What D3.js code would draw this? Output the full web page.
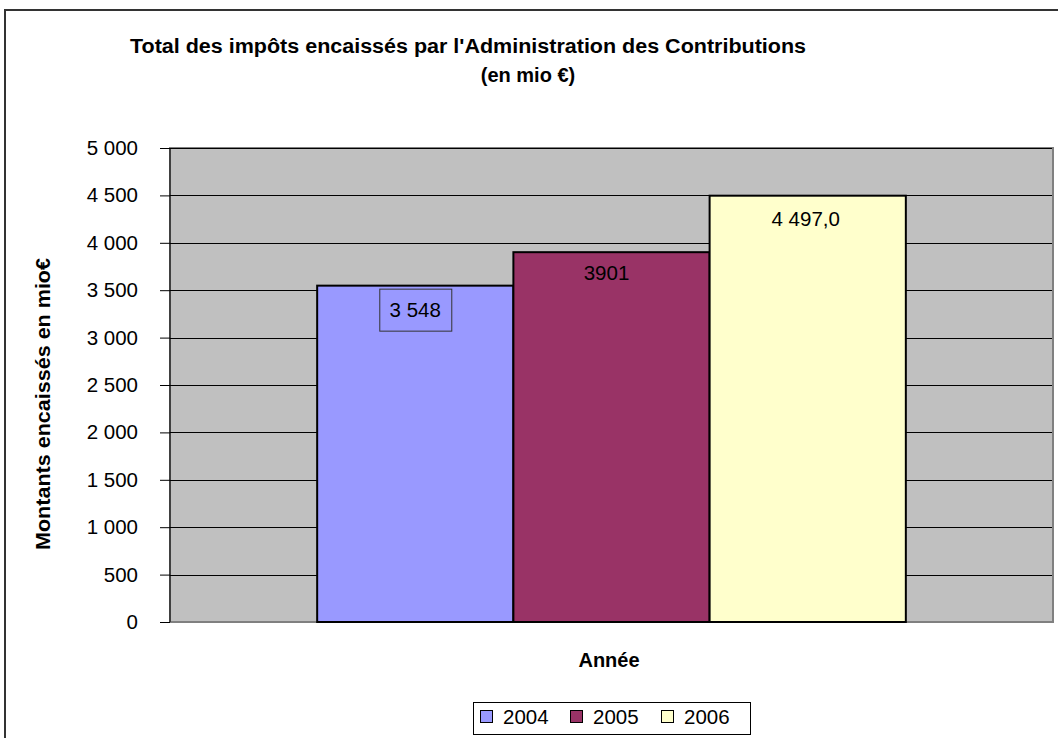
<!DOCTYPE html>
<html>
<head>
<meta charset="utf-8">
<script src="https://cdn.jsdelivr.net/npm/d3@7"></script>
<style>
  body { margin: 0; background: #fff; }
  svg text { font-family: Arial, "Liberation Sans", sans-serif; fill: #000; }
</style>
</head>
<body>
<div id="chart"></div>
<script>
// data
var years = ["2004", "2005", "2006"];
var values = [3548, 3901, 4497];
var valueLabels = ["3 548", "3901", "4 497,0"];
var colors = ["#9999ff", "#993366", "#ffffcc"];
var yTicks = [0, 500, 1000, 1500, 2000, 2500, 3000, 3500, 4000, 4500, 5000];

var width = 1058, height = 738;
var svg = d3.select("#chart").append("svg")
    .attr("width", width)
    .attr("height", height);

// outer chart border (cut off at right and bottom)
svg.append("path")
    .attr("d", "M5,740 L5,10 L1060,10")
    .attr("fill", "none")
    .attr("stroke", "#333")
    .attr("stroke-width", 2);

var plot = {left: 170, right: 1053, top: 148, bottom: 622};

var yScale = d3.scaleLinear().domain([0, 5000]).range([plot.bottom, plot.top]);

// gap width 150% : half a bar width of gap on each side of the group
var barW = (plot.right - plot.left) / (years.length + 1.5);
var xScale = d3.scaleBand().domain(years)
    .range([plot.left + barW * 0.75, plot.right - barW * 0.75])
    .padding(0);

// plot background
svg.append("rect")
    .attr("x", plot.left)
    .attr("y", plot.top)
    .attr("width", plot.right - plot.left)
    .attr("height", plot.bottom - plot.top)
    .attr("fill", "#c0c0c0")
    .attr("stroke", "#808080")
    .attr("stroke-width", 2);

// gridlines
svg.append("g").selectAll("line")
    .data(yTicks.filter(function(d) { return d > 0; }))
    .enter().append("line")
    .attr("x1", plot.left)
    .attr("x2", plot.right - 1)
    .attr("y1", function(d) { return Math.round(yScale(d)) + 0.5; })
    .attr("y2", function(d) { return Math.round(yScale(d)) + 0.5; })
    .attr("stroke", "#000")
    .attr("stroke-width", 1);

// y axis
var fmt = d3.formatLocale({decimal: ",", thousands: " ", grouping: [3], currency: ["", " €"]}).format(",d");
var yAxis = d3.axisLeft(yScale)
    .tickValues(yTicks)
    .tickFormat(fmt)
    .tickSize(10)
    .tickPadding(22);

var gy = svg.append("g")
    .attr("transform", "translate(" + plot.left + ",0)")
    .call(yAxis);
gy.select(".domain").attr("stroke", "#000").attr("d", "M0," + plot.top + "V" + plot.bottom);
gy.selectAll(".tick line").attr("stroke", "#000");
gy.selectAll(".tick text")
    .style("font-size", "20.5px")
    .style("font-family", "Arial, 'Liberation Sans', sans-serif");

// bars
svg.append("g").selectAll("rect")
    .data(values)
    .enter().append("rect")
    .attr("x", function(d, i) { return xScale(years[i]); })
    .attr("y", function(d) { return yScale(d); })
    .attr("width", xScale.bandwidth())
    .attr("height", function(d) { return plot.bottom - yScale(d); })
    .attr("fill", function(d, i) { return colors[i]; })
    .attr("stroke", "#000")
    .attr("stroke-width", 2);

// value labels
var labelDy = [24, 21, 23];
var labelDx = [0, -5, -2];
valueLabels.forEach(function(t, i) {
    var cx = xScale(years[i]) + xScale.bandwidth() / 2 + labelDx[i];
    var cy = yScale(values[i]) + labelDy[i];
    if (i === 0) {
        svg.append("rect")
            .attr("x", cx - 35.5)
            .attr("y", cy - 20.5)
            .attr("width", 72)
            .attr("height", 42)
            .attr("fill", colors[0])
            .attr("stroke", "#333")
            .attr("stroke-width", 1);
    }
    svg.append("text")
        .attr("x", cx)
        .attr("y", cy + 7)
        .attr("text-anchor", "middle")
        .style("font-size", "20.5px")
        .text(t);
});

// titles
svg.append("text")
    .attr("x", 130)
    .attr("y", 53)
    .attr("textLength", 676)
    .attr("lengthAdjust", "spacingAndGlyphs")
    .style("font-size", "20px")
    .style("font-weight", "bold")
    .text("Total des impôts encaissés par l'Administration des Contributions");

svg.append("text")
    .attr("x", 528)
    .attr("y", 82)
    .attr("text-anchor", "middle")
    .style("font-size", "20px")
    .style("font-weight", "bold")
    .text("(en mio €)");

svg.append("text")
    .attr("transform", "translate(50,404) rotate(-90)")
    .attr("text-anchor", "middle")
    .attr("textLength", 292)
    .attr("lengthAdjust", "spacingAndGlyphs")
    .style("font-size", "20px")
    .style("font-weight", "bold")
    .text("Montants encaissés en mio€");

svg.append("text")
    .attr("x", 609)
    .attr("y", 667)
    .attr("text-anchor", "middle")
    .style("font-size", "20px")
    .style("font-weight", "bold")
    .text("Année");

// legend
var legend = svg.append("g");
legend.append("rect")
    .attr("x", 473.5)
    .attr("y", 702.5)
    .attr("width", 277)
    .attr("height", 32)
    .attr("fill", "#fff")
    .attr("stroke", "#000")
    .attr("stroke-width", 1);

var legendX = [480, 570, 661];
years.forEach(function(y, i) {
    legend.append("rect")
        .attr("x", legendX[i] + 0.5)
        .attr("y", 710.5)
        .attr("width", 12)
        .attr("height", 12)
        .attr("fill", colors[i])
        .attr("stroke", "#000")
        .attr("stroke-width", 1);
    legend.append("text")
        .attr("x", legendX[i] + 23)
        .attr("y", 724)
        .style("font-size", "20.5px")
        .text(y);
});
</script>
</body>
</html>
